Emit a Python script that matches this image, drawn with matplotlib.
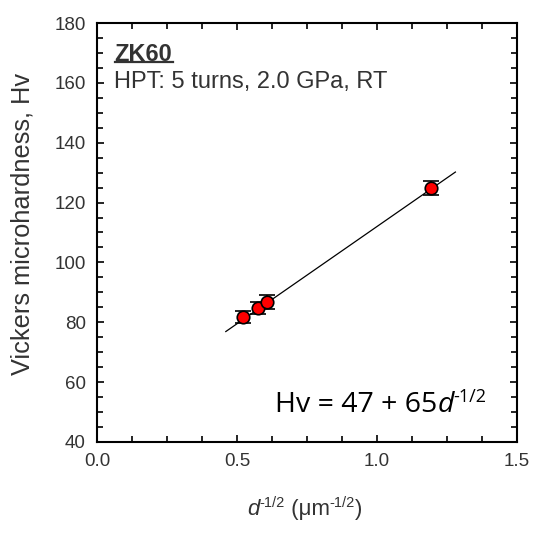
import numpy as np
import matplotlib.pyplot as plt
from matplotlib.ticker import MultipleLocator

# data
d_inv = [0.522, 0.576, 0.608, 1.193]
hv = [81.9, 84.9, 86.8, 124.8]
hv_err = [2.0, 2.0, 2.2, 2.3]
fit_a, fit_b = 47, 65
fit_range = [0.46, 1.28]

plt.rcParams['font.family'] = ['Liberation Sans', 'DejaVu Sans']
txt = '#333333'

fig = plt.figure(figsize=(5.4, 5.39), dpi=100)
ax = fig.add_axes([0.1796, 0.18, 0.7778, 0.7773])

xf = np.array(fit_range)
ax.plot(xf, fit_a + fit_b * xf, color='black', lw=0.9, zorder=2)
ax.errorbar(d_inv, hv, yerr=hv_err, fmt='o', color='black', mfc='#ff0000',
            mec='black', mew=1.2, ms=9, elinewidth=1.2, capsize=6,
            capthick=2, zorder=3)

ax.set_xlim(0, 1.5)
ax.set_ylim(40, 180)
ax.xaxis.set_major_locator(MultipleLocator(0.5))
ax.xaxis.set_minor_locator(MultipleLocator(0.125))
ax.yaxis.set_major_locator(MultipleLocator(20))
ax.yaxis.set_minor_locator(MultipleLocator(5))
ax.xaxis.set_major_formatter(plt.FuncFormatter(lambda v, p: f'{v:.1f}'))
ax.tick_params(which='both', direction='in', top=True, right=True,
               labelsize=13.5, width=1.2, colors='black', labelcolor=txt)
ax.tick_params(which='major', length=5, pad=8)
ax.tick_params(which='minor', length=4)
for s in ax.spines.values():
    s.set_linewidth(1.5)

ax.set_ylabel('Vickers microhardness, Hv', fontsize=18.3, color=txt)
ax.yaxis.set_label_coords(-0.148, 0.521)


def chain(x, y, parts, **kw):
    # parts: (text, size, style, rise in points), laid out left to right
    s, size, style, rise = parts[0]
    prev = fig.text(x, y, s, fontsize=size, style=style, va='bottom', ha='left', **kw)
    last_rise = rise
    for s, size, style, rise in parts[1:]:
        prev = ax.annotate(s, xy=(1, 0), xycoords=prev, xytext=(0, rise - last_rise),
                           textcoords='offset points', fontsize=size, style=style,
                           va='bottom', ha='left', annotation_clip=False, **kw)
        last_rise = rise
    return prev


# x label
chain(247 / 540, 1 - 520 / 539,
      [('d', 16, 'italic', 0), ('-1/2', 10.5, 'normal', 7.5),
       (' (\u03bcm', 16, 'normal', 0), ('-1/2', 10.5, 'normal', 7.5), (')', 16, 'normal', 0)],
      color=txt, family=['Liberation Sans', 'DejaVu Sans'])

# equation
chain(275 / 540, 1 - 419 / 539,
      [('Hv = 47 + 65', 20.5, 'normal', 0), ('d', 20.5, 'italic', 0),
       ('-1/2', 13, 'normal', 9.5)],
      color='black', family=['Open Sans', 'DejaVu Sans'])

ax.text(0.04, 0.952, 'ZK60', transform=ax.transAxes, fontsize=17,
        fontweight='bold', color=txt, va='top')
ax.plot([0.043, 0.181], [0.907, 0.907], transform=ax.transAxes, color=txt, lw=1.6)
ax.text(0.04, 0.885, 'HPT: 5 turns, 2.0 GPa, RT', transform=ax.transAxes,
        fontsize=17, color=txt, va='top')

fig.savefig('out.png', dpi=100)
